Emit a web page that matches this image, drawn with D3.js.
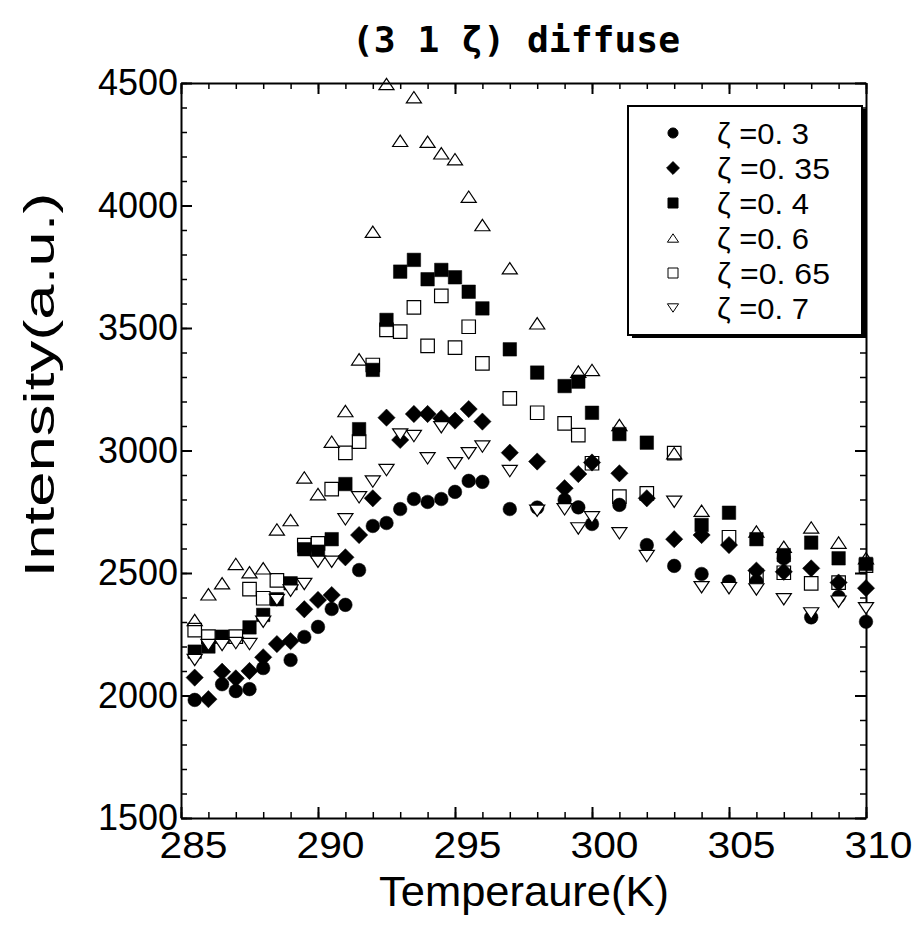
<!DOCTYPE html>
<html>
<head>
<meta charset="utf-8">
<script src="https://cdn.jsdelivr.net/npm/d3@7"></script>
<style>
  body { margin: 0; background: #fff; }
  svg { display: block; }
</style>
</head>
<body>
<svg id="chart" width="914" height="936"></svg>
<script>
// Temperature points (K), shared by every series
const temps = [285.5, 286, 286.5, 287, 287.5, 288, 288.5, 289, 289.5, 290, 290.5, 291, 291.5,
    292, 292.5, 293, 293.5, 294, 294.5, 295, 295.5, 296, 297, 298, 299, 299.5, 300,
    301, 302, 303, 304, 305, 306, 307, 308, 309, 310];

// Intensities for each zeta, null where the point is not visible
const zeta030 = [1982, null, 2046, 2018, 2026, 2112, null, 2145, 2239, 2280, 2353, 2370, 2512,
    2692, 2704, 2761, 2802, 2790, 2802, 2831, 2876, 2872, 2761, 2767, 2798, 2768, 2700,
    2778, 2614, 2529, 2496, 2465, 2465, 2560, 2319, 2403, 2301];
const zeta035 = [2073, 1985, 2097, 2070, 2100, 2156, 2210, 2222, 2352, 2390, 2410, 2564, 2655,
    2805, 3134, 3043, 3149, 3149, 3131, 3122, 3169, 3118, 2991, 2955, 2846, 2904, 2951,
    2907, 2805, 2638, 2655, 2614, 2510, 2505, 2519, 2461, 2438];
const zeta040 = [2179, 2200, 2240, null, 2278, 2329, 2393, 2458, 2597, 2587, 2638, 2863, 3087,
    3329, 3533, 3730, 3778, 3699, 3737, 3707, 3648, 3580, 3413, 3318, 3263, 3281, 3154,
    3067, 3032, null, 2696, 2746, 2638, 2573, 2624, 2560, 2537];
const zeta060 = [2308, 2413, 2458, 2537, 2503, 2519, 2678, 2716, 2890, 2822, 3036, 3161, 3372,
    3893, 4496, 4264, 4442, 4260, 4213, 4189, 4036, 3920, 3744, 3519, null, 3322, 3329,
    3104, null, 2989, 2754, null, 2669, 2607, 2686, 2624, 2560];
const zeta065 = [2267, 2240, null, 2240, 2434, 2397, 2470, null, 2614, 2621, 2842, 2990, 3036,
    3349, 3492, 3485, 3584, 3427, 3631, 3420, 3505, 3356, 3213, 3154, 3111, 3063, 2948,
    2812, 2825, 2989, null, 2646, 2488, 2501, 2458, 2461, 2530];
const zeta070 = [2145, 2206, 2206, 2214, 2210, 2301, 2390, 2428, 2455, 2546, 2546, 2719, 2809,
    2873, 2920, 3065, 3059, 2968, 3095, 2948, 2989, 3016, 2916, 2754, 2760, 2682, 2727,
    2662, 2569, 2791, 2442, 2438, 2433, 2393, 2335, 2383, 2356];

const seriesNames = ["ζ =0. 3", "ζ =0. 35", "ζ =0. 4", "ζ =0. 6", "ζ =0. 65", "ζ =0. 7"];
const seriesValues = [zeta030, zeta035, zeta040, zeta060, zeta065, zeta070];
const seriesShapes = ["circle", "diamond", "square", "up", "box", "down"];

const xTicks = [285, 290, 295, 300, 305, 310];
const yTicks = [1500, 2000, 2500, 3000, 3500, 4000, 4500];

const svg = d3.select("#chart");
const plotLeft = 181, plotRight = 866, plotTop = 83, plotBottom = 818;

const x = d3.scaleLinear().domain([285, 310]).range([plotLeft, plotRight]);
const y = d3.scaleLinear().domain([1500, 4500]).range([plotBottom, plotTop]);

// Marker paths centred on 0,0
const markerPath = (shape, s) => {
    if (shape === "circle") return d3.symbol(d3.symbolCircle, s * s * 0.8)();
    if (shape === "square" || shape === "box") {
        const h = s / 2;
        return `M${-h},${-h}H${h}V${h}H${-h}Z`;
    }
    if (shape === "diamond") {
        const h = s * 0.64;
        return `M0,${-h}L${h},0L0,${h}L${-h},0Z`;
    }
    const w = s * 0.56, h = s * 0.42;
    if (shape === "up") return `M0,${-h}L${w},${h}L${-w},${h}Z`;
    return `M0,${h}L${w},${-h}L${-w},${-h}Z`;
};
const isFilled = shape => shape === "circle" || shape === "diamond" || shape === "square";
const fillOf = shape => isFilled(shape) ? "#000" : (shape === "down" ? "#fff" : "none");

// Frame axes with inward ticks
const addAxis = (axisFn, scale, transform, major, minor, labels) => {
    const gm = svg.append("g")
        .attr("transform", transform)
        .call(axisFn(scale).tickValues(minor).tickSizeInner(-6).tickSizeOuter(0).tickFormat(""));
    gm.select(".domain").remove();
    gm.selectAll("line").attr("stroke", "#000").attr("stroke-width", 1.5);
    const g = svg.append("g")
        .attr("transform", transform)
        .call(axisFn(scale).tickValues(major).tickSizeInner(-11).tickSizeOuter(0)
            .tickPadding(labels ? 8 : 0).tickFormat(labels ? d3.format("d") : ""));
    g.selectAll("line, .domain").attr("stroke", "#000").attr("stroke-width", 2);
    return g;
};

const xMinor = d3.range(285, 311, 1);
const yMinor = d3.range(1500, 4501, 100);

const gx = addAxis(d3.axisBottom, x, `translate(0,${plotBottom})`, xTicks, xMinor, true);
addAxis(d3.axisTop, x, `translate(0,${plotTop})`, xTicks, xMinor, false);
const gy = addAxis(d3.axisLeft, y, `translate(${plotLeft},0)`, yTicks, yMinor, true);
addAxis(d3.axisRight, y, `translate(${plotRight},0)`, yTicks, yMinor, false);

gx.selectAll("text")
    .attr("font-family", "Liberation Sans, Arial, sans-serif")
    .attr("font-size", 37)
    .attr("fill", "#000")
    .attr("dy", null)
    .attr("x", 12)
    .attr("y", 40)
    .attr("textLength", 68)
    .attr("lengthAdjust", "spacingAndGlyphs");
gy.selectAll("text")
    .attr("font-family", "Liberation Sans, Arial, sans-serif")
    .attr("font-size", 36)
    .attr("fill", "#000")
    .attr("x", -3)
    .attr("textLength", 80)
    .attr("lengthAdjust", "spacingAndGlyphs");

// Data points, drawn in legend order
const plot = svg.append("g");
seriesValues.forEach((vals, i) => {
    const shape = seriesShapes[i];
    const pts = temps.map((t, j) => ({ t, v: vals[j] })).filter(d => d.v !== null);
    plot.append("g")
        .selectAll("path")
        .data(pts)
        .enter()
        .append("path")
        .attr("transform", d => `translate(${x(d.t)},${y(d.v)})`)
        .attr("d", markerPath(shape, 13.5))
        .attr("fill", fillOf(shape))
        .attr("stroke", "#000")
        .attr("stroke-width", isFilled(shape) ? 0.5 : 1.2);
});

// Legend
const lg = svg.append("g");
lg.append("rect").attr("x", 632).attr("y", 109).attr("width", 234).attr("height", 229).attr("fill", "#000");
lg.append("rect").attr("x", 628).attr("y", 106).attr("width", 234).attr("height", 229)
    .attr("fill", "#fff").attr("stroke", "#000").attr("stroke-width", 2);
const rowY = d3.scalePoint().domain(seriesNames).range([133, 308]);
seriesNames.forEach((name, i) => {
    const shape = seriesShapes[i];
    lg.append("path")
        .attr("transform", `translate(673,${rowY(name)})`)
        .attr("d", markerPath(shape, 10))
        .attr("fill", shape === "down" ? "#fff" : fillOf(shape))
        .attr("stroke", "#000")
        .attr("stroke-width", 1);
    lg.append("text")
        .attr("x", 717)
        .attr("y", rowY(name) + 11)
        .attr("font-family", "Liberation Sans, Arial, sans-serif")
        .attr("font-size", 29)
        .attr("textLength", name.length > 7 ? 113 : 92)
        .attr("lengthAdjust", "spacingAndGlyphs")
        .text(name);
});

// Title and axis titles
svg.append("text")
    .attr("x", 516).attr("y", 52)
    .attr("text-anchor", "middle")
    .attr("font-family", "DejaVu Sans Mono, monospace")
    .attr("font-weight", "bold")
    .attr("font-size", 36)
    .attr("textLength", 328)
    .attr("lengthAdjust", "spacingAndGlyphs")
    .text("(3 1 ζ) diffuse");

svg.append("text")
    .attr("x", 524).attr("y", 906)
    .attr("text-anchor", "middle")
    .attr("font-family", "Liberation Sans, Arial, sans-serif")
    .attr("font-size", 42)
    .attr("textLength", 290)
    .attr("lengthAdjust", "spacingAndGlyphs")
    .text("Temperaure(K)");

svg.append("text")
    .attr("transform", "translate(54,385) rotate(-90)")
    .attr("text-anchor", "middle")
    .attr("font-family", "Liberation Sans, Arial, sans-serif")
    .attr("font-size", 42)
    .attr("textLength", 385)
    .attr("lengthAdjust", "spacingAndGlyphs")
    .text("Intensity(a.u.)");
</script>
</body>
</html>
